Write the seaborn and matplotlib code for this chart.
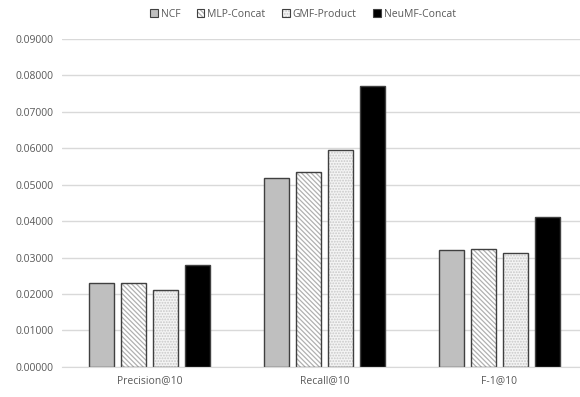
import pandas as pd
import numpy as np
import matplotlib.pyplot as plt
import matplotlib.colors as mcolors
import seaborn as sns

# Data
metrics = ["Precision@10", "Recall@10", "F-1@10"]
models = ["NCF", "MLP-Concat", "GMF-Product", "NeuMF-Concat"]
ncf = [0.0231, 0.0518, 0.0320]
mlp_concat = [0.0231, 0.0536, 0.0323]
gmf_product = [0.0210, 0.0595, 0.0312]
neumf_concat = [0.0280, 0.0772, 0.0411]

df = pd.DataFrame({
    "metric": metrics * 4,
    "model": [m for m in models for _ in metrics],
    "value": ncf + mlp_concat + gmf_product + neumf_concat,
})

sns.set_style("white")
plt.rcParams["font.family"] = ["Open Sans", "DejaVu Sans"]
plt.rcParams["hatch.linewidth"] = 0.9

colors = ["#bfbfbf", "white", "#f4f4f4", "black"]
hatches = ["", "\\" * 7, "......", ""]
hatch_cols = [None, "#b0b0b0", "#c8c8c8", None]

fig, ax = plt.subplots(figsize=(5.8, 3.97), dpi=100)
sns.barplot(data=df, x="metric", y="value", hue="model", palette=colors,
            width=0.73, gap=0.22, edgecolor="#404040", linewidth=1.0, ax=ax,
            legend=False)


def style_patch(p, k):
    p.set_hatch(hatches[k])
    p.set_edgecolor("#404040")
    if hatch_cols[k]:
        p._hatch_color = mcolors.to_rgba(hatch_cols[k])


n = len(metrics)
for i, p in enumerate(ax.patches):
    style_patch(p, i // n)

ax.set_ylim(0, 0.09)
ticks = np.arange(0, 0.0901, 0.01)
ax.set_yticks(ticks)
ax.set_yticklabels([f"{v:.5f}" for v in ticks])
ax.set_xlim(-0.5, 2.5)
ax.yaxis.grid(True, color="#d9d9d9", linewidth=1)
ax.set_axisbelow(True)
ax.set_xlabel("")
ax.set_ylabel("")
for s in ["top", "right", "left"]:
    ax.spines[s].set_visible(False)
ax.spines["bottom"].set_color("#d9d9d9")
ax.tick_params(axis="both", labelsize=7.5, colors="#595959", length=0, pad=6)

handles = []
for k, c in enumerate(colors):
    r = plt.Rectangle((0, 0), 1, 1, facecolor=c, linewidth=0.8)
    style_patch(r, k)
    handles.append(r)
ax.legend(handles, models, loc="lower center", bbox_to_anchor=(0.459, 1.03),
          ncol=4, frameon=False, fontsize=7.5, handlelength=0.7, handleheight=0.7,
          handletextpad=0.3, columnspacing=1.6, labelcolor="#595959")

# plot area is cropped on the right in the reference
plt.subplots_adjust(left=0.107, right=1.012, top=0.902, bottom=0.076)
plt.savefig("out.png", dpi=100)
